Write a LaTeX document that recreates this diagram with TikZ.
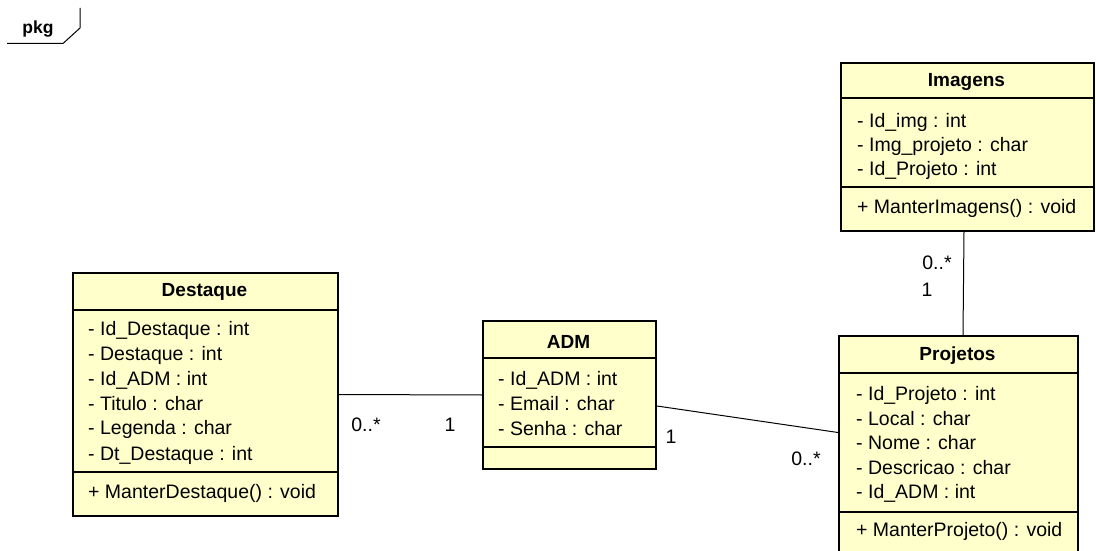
\documentclass[tikz,border=0pt]{standalone}
\usepackage{fontspec}
\setmainfont{Liberation Sans}
\definecolor{clsfill}{HTML}{FFFFCC}
\tikzset{
  cls/.style={draw=black, line width=2pt, fill=clsfill, inner sep=0pt, anchor=north west},
  sepline/.style={line width=1.2pt},
  ttl/.style={font=\fontsize{19}{19}\selectfont\bfseries, inner sep=0pt},
  attr/.style={font=\fontsize{19.5}{19.5}\selectfont, inner sep=0pt, anchor=west},
  assoc/.style={line width=1pt},
  mult/.style={font=\fontsize{19.5}{19.5}\selectfont, inner sep=0pt},
}
\begin{document}
\begin{tikzpicture}[x=1pt,y=-1pt]
\useasboundingbox (0,0) rectangle (1096,551);
% package tab
\node[font=\fontsize{17.5}{17.5}\selectfont\bfseries, inner sep=0pt] (pkg) at (38,29) {pkg};
\draw[line width=1pt] (7,43.5) -- (63,43.5) -- (80,28) -- (80,8);

% Imagens
\node[cls, minimum width=253pt, minimum height=168pt] (img) at (840,62) {};
\draw[sepline] (840,98) -- (1093,98);
\draw[sepline] (840,187) -- (1093,187);
\node[ttl] (imgT) at (966.5,82) {Imagens};
\node[attr] (img1) at (857,122) {- Id\_img : int};
\node[attr] (img2) at (857,146) {- Img\_projeto : char};
\node[attr] (img3) at (857,170) {- Id\_Projeto : int};
\node[attr] (img4) at (857,208) {+ ManterImagens() : void};

% Destaque
\node[cls, minimum width=265pt, minimum height=243pt] (dest) at (72,272) {};
\draw[sepline] (72,310) -- (337,310);
\draw[sepline] (72,472) -- (337,472);
\node[ttl] (destT) at (204.5,292) {Destaque};
\node[attr] (d1) at (88,330) {- Id\_Destaque : int};
\node[attr] (d2) at (88,355) {- Destaque : int};
\node[attr] (d3) at (88,380) {- Id\_ADM : int};
\node[attr] (d4) at (88,404) {- Titulo : char};
\node[attr] (d5) at (88,429) {- Legenda : char};
\node[attr] (d6) at (88,455) {- Dt\_Destaque : int};
\node[attr] (d7) at (88,493) {+ ManterDestaque() : void};

% ADM
\node[cls, minimum width=173pt, minimum height=148pt] (adm) at (482,320) {};
\draw[sepline] (482,358) -- (655,358);
\draw[sepline] (482,447) -- (655,447);
\node[ttl] (admT) at (568.5,342) {ADM};
\node[attr] (a1) at (498,380) {- Id\_ADM : int};
\node[attr] (a2) at (498,404) {- Email : char};
\node[attr] (a3) at (498,429) {- Senha : char};

% Projetos
\node[cls, minimum width=239pt, minimum height=230pt] (proj) at (838,335) {};
\draw[sepline] (838,373) -- (1077,373);
\draw[sepline] (838,512) -- (1077,512);
\node[ttl] (projT) at (957.5,356) {Projetos};
\node[attr] (p1) at (856,395) {- Id\_Projeto : int};
\node[attr] (p2) at (856,419) {- Local : char};
\node[attr] (p3) at (856,443) {- Nome : char};
\node[attr] (p4) at (856,468) {- Descricao : char};
\node[attr] (p5) at (856,493) {- Id\_ADM : int};
\node[attr] (p6) at (856,531) {+ ManterProjeto() : void};

% associations
\draw[assoc] (dest.east) -- (adm.west);
\draw[assoc] ([yshift=-11pt]adm.east) -- ([yshift=18.5pt]proj.west);
\draw[assoc] ([xshift=-3.5pt]img.south) -- ([xshift=4.5pt]proj.north);

% multiplicities
\node[mult] (m1) at (366,425) {0..*};
\node[mult] (m2) at (450,425) {1};
\node[mult] (m3) at (671,437) {1};
\node[mult] (m4) at (806,459) {0..*};
\node[mult] (m5) at (937,263) {0..*};
\node[mult] (m6) at (927,290) {1};
\end{tikzpicture}
\end{document}
